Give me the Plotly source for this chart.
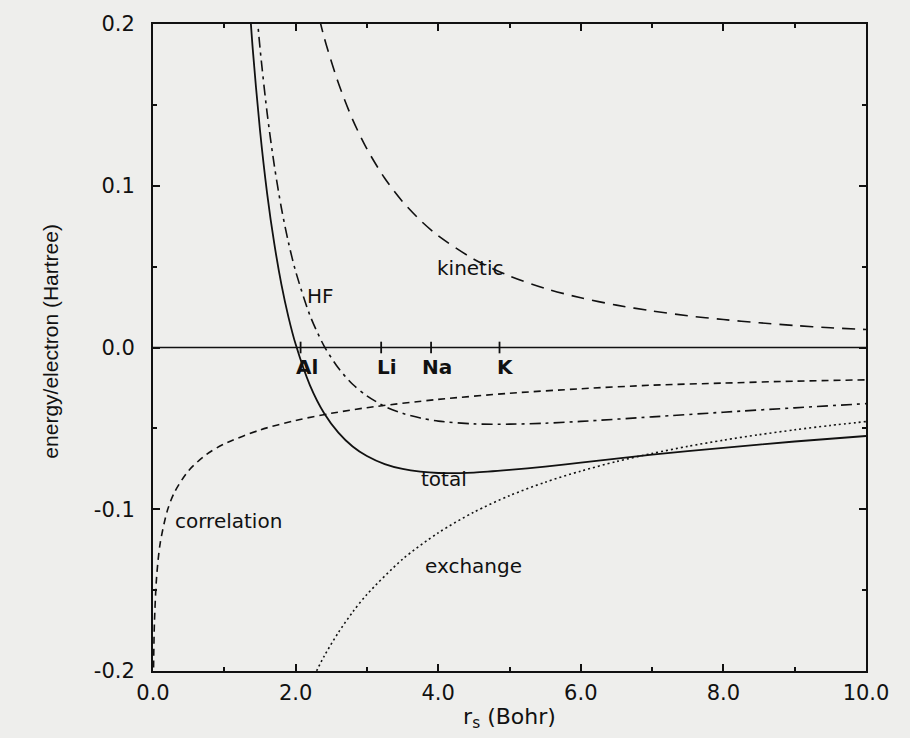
import plotly.graph_objects as go

# ---- data (Hartree per electron vs r_s in Bohr) ----
kin_rs = [2.2, 2.4, 2.6, 2.8, 3.0, 3.25, 3.5, 3.75, 4.0, 4.5, 5.0, 5.5, 6.0, 6.5, 7.0, 7.5, 8.0, 8.5, 9.0, 9.5, 10.0]
kin_e = [0.2283, 0.1918, 0.1635, 0.1409, 0.1228, 0.1046, 0.0902, 0.0786, 0.0691, 0.0546, 0.0442, 0.0365,
         0.0307, 0.0262, 0.0226, 0.0196, 0.0173, 0.0153, 0.0136, 0.0122, 0.0111]

exc_rs = [2.2, 2.4, 2.6, 2.8, 3.0, 3.5, 4.0, 4.5, 5.0, 5.5, 6.0, 6.5, 7.0, 7.5, 8.0, 8.5, 9.0, 9.5, 10.0]
exc_e = [-0.2083, -0.1909, -0.1762, -0.1636, -0.1527, -0.1309, -0.1146, -0.1018, -0.0916, -0.0833, -0.0764,
         -0.0705, -0.0655, -0.0611, -0.0573, -0.0539, -0.0509, -0.0482, -0.0458]

cor_rs = [0.005, 0.01, 0.02, 0.05, 0.1, 0.2, 0.3, 0.5, 0.75, 1.0, 1.5, 2.0, 2.5, 3.0, 4.0, 5.0, 6.0, 7.0, 8.0, 9.0, 10.0]
cor_e = [-0.2128, -0.1914, -0.1701, -0.1421, -0.1212, -0.1010, -0.0896, -0.0761, -0.0661, -0.0596, -0.0510,
         -0.0451, -0.0407, -0.0372, -0.0321, -0.0283, -0.0255, -0.0233, -0.0220, -0.0208, -0.0200]

hf_rs = [1.4, 1.5, 1.6, 1.7, 1.8, 1.9, 2.0, 2.2, 2.4, 2.6, 2.8, 3.0, 3.25, 3.5, 3.75, 4.0, 4.5, 5.0, 5.5, 6.0, 7.0, 8.0, 9.0, 10.0]
hf_e = [0.2365, 0.1856, 0.1452, 0.1129, 0.0864, 0.0649, 0.0472, 0.0200, 0.0009, -0.0127, -0.0227, -0.0299,
        -0.0364, -0.0407, -0.0436, -0.0455, -0.0472, -0.0474, -0.0468, -0.0457, -0.0429, -0.0400, -0.0373, -0.0347]

tot_rs = [1.3, 1.4, 1.5, 1.6, 1.7, 1.8, 1.9, 2.0, 2.2, 2.4, 2.6, 2.8, 3.0, 3.25, 3.5, 3.75, 4.0, 4.5, 5.0, 5.5, 6.0, 7.0, 8.0, 9.0, 10.0]
tot_e = [0.2473, 0.1840, 0.1346, 0.0955, 0.0645, 0.0392, 0.0188, 0.0021, -0.0232, -0.0406, -0.0526, -0.0612,
         -0.0671, -0.0721, -0.0751, -0.0768, -0.0776, -0.0773, -0.0757, -0.0736, -0.0712, -0.0662, -0.0620,
         -0.0581, -0.0547]

metals = ["Al", "Li", "Na", "K"]
metal_rs = [2.07, 3.2, 3.9, 4.86]

curve_labels = ["kinetic", "HF", "total", "correlation", "exchange"]
label_x = [4.45, 2.35, 4.08, 1.06, 4.5]
label_y = [0.049, 0.032, -0.081, -0.107, -0.135]

x_ticks = [0, 2, 4, 6, 8, 10]
x_tick_text = ["0.0", "2.0", "4.0", "6.0", "8.0", "10.0"]
y_ticks = [-0.2, -0.1, 0.0, 0.1, 0.2]
y_tick_text = ["-0.2", "-0.1", "0.0", "0.1", "0.2"]

INK = "#111111"
WIDE = "DejaVu Sans, Verdana, sans-serif"
NARROW = "Liberation Sans, Arial, sans-serif"

fig = go.Figure()

# zero line
fig.add_trace(go.Scatter(x=[0, 10], y=[0, 0], mode="lines", line=dict(color=INK, width=1.6),
                         hoverinfo="skip", showlegend=False))
# metal ticks on zero line
mx, my = [], []
for r in metal_rs:
    mx += [r, r, None]
    my += [-0.0036, 0.0036, None]
fig.add_trace(go.Scatter(x=mx, y=my, mode="lines", line=dict(color=INK, width=1.8),
                         hoverinfo="skip", showlegend=False))

def curve(x, y, dash, width=1.6):
    fig.add_trace(go.Scatter(x=x, y=y, mode="lines",
                             line=dict(color=INK, width=width, dash=dash, shape="spline", smoothing=0.8),
                             showlegend=False))

curve(kin_rs, kin_e, "13px,8px")
curve(cor_rs, cor_e, "7px,5px")
curve(hf_rs, hf_e, "11px,5px,3px,5px")
curve(exc_rs, exc_e, "2px,3px")
curve(tot_rs, tot_e, "solid", 1.8)

for t, x, y in zip(curve_labels, label_x, label_y):
    fig.add_annotation(x=x, y=y, text=t, showarrow=False,
                       font=dict(family=WIDE, size=20, color=INK))

for t, r in zip(metals, metal_rs):
    fig.add_annotation(x=r, y=-0.0118, text="<b>" + t + "</b>", showarrow=False, xshift=6,
                       font=dict(family=WIDE, size=20, color=INK))

# y-axis title placed as rotated text left of the tick labels
fig.add_annotation(xref="paper", yref="paper", x=-0.145, y=0.51, xanchor="center", yanchor="middle",
                   text="energy/electron (Hartree)",
                   textangle=-90, showarrow=False, font=dict(family=NARROW, size=21, color=INK))

fig.update_xaxes(range=[0, 10], tickvals=x_ticks, ticktext=x_tick_text,
                 ticks="inside", ticklen=7, tickwidth=1.5, tickcolor=INK,
                 minor=dict(tickvals=[1, 3, 5, 7, 9], ticks="inside", ticklen=4, tickcolor=INK, tickwidth=1.5),
                 showline=True, linecolor=INK, linewidth=2, mirror="ticks",
                 showgrid=False, zeroline=False, ticklabelstandoff=2,
                 tickfont=dict(family=WIDE, size=21, color=INK),
                 title=dict(text="r<sub>s</sub> (Bohr)", font=dict(family=WIDE, size=22, color=INK), standoff=4))
fig.update_yaxes(range=[-0.2, 0.2], tickvals=y_ticks, ticktext=y_tick_text,
                 ticks="inside", ticklen=7, tickwidth=1.5, tickcolor=INK,
                 minor=dict(tickvals=[-0.15, -0.05, 0.05, 0.15], ticks="inside", ticklen=4, tickcolor=INK, tickwidth=1.5),
                 showline=True, linecolor=INK, linewidth=2, mirror="ticks",
                 showgrid=False, zeroline=False, ticklabelstandoff=12,
                 tickfont=dict(family=WIDE, size=21, color=INK))

fig.update_layout(width=910, height=738,
                  margin=dict(l=153, r=44, t=24, b=67, autoexpand=False),
                  paper_bgcolor="#eeeeec", plot_bgcolor="#eeeeec")

fig.write_html("out.html")
